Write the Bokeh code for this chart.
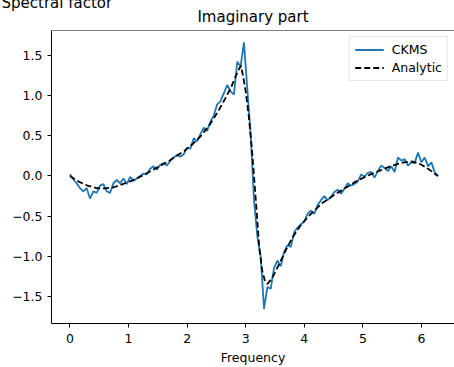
import numpy as np
from bokeh.plotting import figure
from bokeh.models import (Range1d, FixedTicker, CustomJSTickFormatter, Title,
                          Legend, LegendItem, Span)
from bokeh.embed import file_html
from bokeh.resources import INLINE

# ---- data ----
freq_ckms = np.linspace(0, 2 * np.pi, 111)
ckms = [
    0.02, -0.04, -0.09, -0.15, -0.19, -0.15, -0.28, -0.19, -0.21, -0.12,
    -0.10, -0.19, -0.21, -0.09, -0.05, -0.09, -0.03, -0.10, -0.01, -0.06,
    -0.03, 0.00, 0.03, 0.02, 0.09, 0.12, 0.08, 0.14, 0.16, 0.13,
    0.19, 0.23, 0.26, 0.24, 0.27, 0.35, 0.34, 0.47, 0.43, 0.52,
    0.60, 0.56, 0.68, 0.75, 0.89, 0.93, 1.03, 1.13, 1.05, 1.01,
    1.42, 1.36, 1.66, 1.08, 0.52, -0.30, -0.75, -1.00, -1.65, -1.38,
    -1.40, -1.14, -1.05, -1.12, -0.94, -0.86, -0.88, -0.70, -0.64, -0.60,
    -0.57, -0.47, -0.43, -0.47, -0.36, -0.30, -0.25, -0.30, -0.26, -0.20,
    -0.17, -0.22, -0.16, -0.09, -0.12, -0.10, -0.07, 0.02, -0.01, 0.04,
    0.05, -0.02, 0.06, 0.13, 0.10, 0.06, 0.12, 0.05, 0.23, 0.19,
    0.21, 0.13, 0.17, 0.16, 0.29, 0.17, 0.23, 0.12, 0.17, 0.04, 0.00,
]
freq_analytic = [
    0.00, 0.15, 0.30, 0.45, 0.60, 0.75, 0.90, 1.05, 1.20, 1.35,
    1.50, 1.65, 1.80, 1.95, 2.10, 2.25, 2.40, 2.55, 2.65, 2.75,
    2.83, 2.88, 2.92, 2.97, 3.00, 3.05, 3.10, 3.14, 3.19, 3.23,
    3.28, 3.33, 3.37, 3.43, 3.50, 3.60, 3.70, 3.80, 3.95, 4.10,
    4.30, 4.50, 4.70, 4.90, 5.10, 5.30, 5.50, 5.70, 5.85, 6.00,
    6.15, 6.28,
]
analytic = [
    0.00, -0.07, -0.12, -0.15, -0.155, -0.14, -0.10, -0.06, -0.01, 0.05,
    0.11, 0.17, 0.24, 0.31, 0.40, 0.51, 0.65, 0.83, 0.96, 1.10,
    1.24, 1.32, 1.37, 1.18, 1.05, 0.76, 0.38, 0.02, -0.47, -0.88,
    -1.17, -1.31, -1.34, -1.29, -1.20, -1.05, -0.90, -0.76, -0.60, -0.48,
    -0.34, -0.24, -0.15, -0.06, 0.01, 0.07, 0.13, 0.17, 0.18, 0.14,
    0.07, 0.00,
]
x_ticks = [0, 1, 2, 3, 4, 5, 6]
y_ticks = [-1.5, -1.0, -0.5, 0.0, 0.5, 1.0, 1.5]

FONT = "DejaVu Sans"
W, H = 454, 367
BORDER_LEFT, BORDER_TOP, BORDER_BOTTOM = 51, 30, 41
X0, X1 = -0.314, 6.563
Y0, Y1 = -1.832, 1.807

p = figure(width=W, height=H, output_backend="svg", toolbar_location=None,
           x_range=Range1d(X0, X1), y_range=Range1d(Y0, Y1),
           min_border_left=BORDER_LEFT, min_border_right=0,
           min_border_top=BORDER_TOP, min_border_bottom=BORDER_BOTTOM)
p.background_fill_color = "white"
p.border_fill_color = "white"
p.outline_line_color = None
p.grid.visible = False

# outermost (top) line: the "Spectral factor" caption, flush left; a negative
# standoff keeps its panel almost empty so the frame stays 30px from the top
p.title.text = "Spectral factor"
p.title.align = "left"
p.title.offset = -(BORDER_LEFT - 1)
p.title.text_font = FONT
p.title.text_font_size = "15px"
p.title.text_font_style = "normal"
p.title.text_color = "black"
p.title.standoff = -20

# the chart title, next to the frame
main_title = Title(text="Imaginary part", align="center", text_font=FONT,
                   text_font_size="15px", text_font_style="normal",
                   text_color="black", standoff=9)
p.add_layout(main_title, "above")

for ax in (p.xaxis[0], p.yaxis[0]):
    ax.axis_line_color = "black"
    ax.major_tick_line_color = "black"
    ax.major_tick_out = 4
    ax.major_tick_in = 0
    ax.minor_tick_line_color = None
    ax.major_label_text_font = FONT
    ax.major_label_text_font_size = "12.5px"
    ax.major_label_text_color = "black"
    ax.axis_label_text_font = FONT
    ax.axis_label_text_font_size = "12.5px"
    ax.axis_label_text_font_style = "normal"
    ax.axis_label_text_color = "black"

p.xaxis.ticker = FixedTicker(ticks=x_ticks)
p.xaxis.major_label_standoff = 6
p.xaxis.axis_label = "Frequency"
p.xaxis.axis_label_standoff = 4
p.yaxis.ticker = FixedTicker(ticks=y_ticks)
p.yaxis.major_label_standoff = 5
p.yaxis.formatter = CustomJSTickFormatter(
    code="return tick.toFixed(1).replace('-', '\u2212');")

# top spine (the right spine lies just outside the picture)
p.add_layout(Span(location=Y1, dimension="width",
                  line_color="black", line_width=1))

r1 = p.line(freq_ckms, ckms, line_color="#1f77b4", line_width=1.8)
r2 = p.line(freq_analytic, analytic, line_color="black", line_width=1.8,
            line_dash="6 3")

legend = Legend(items=[LegendItem(label="CKMS", renderers=[r1]),
                       LegendItem(label="Analytic", renderers=[r2])],
                location="top_right", margin=6, padding=5, spacing=3,
                glyph_width=29, glyph_height=15, label_height=15,
                label_standoff=8, label_text_font=FONT,
                label_text_font_size="12.5px", label_text_color="black",
                border_line_color="#cccccc", border_line_width=1,
                background_fill_color="white", background_fill_alpha=0.8)
p.add_layout(legend)

open("out.html", "w").write(file_html(p, INLINE))
